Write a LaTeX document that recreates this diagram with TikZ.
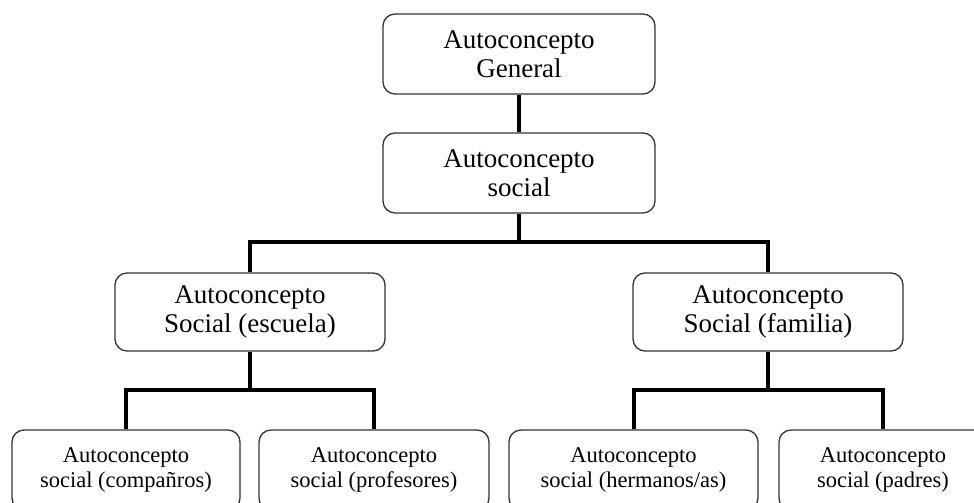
\documentclass[tikz,border=0pt]{standalone}
\usepackage{fontspec}
\setmainfont{Liberation Serif}
\begin{document}
\begin{tikzpicture}[x=1pt,y=-1pt,
  box/.style={draw=black!80, line width=1.3pt, rounded corners=12pt, align=center, inner sep=0pt},
  bigbox/.style={box, font=\fontsize{27}{29}\selectfont},
  smallbox/.style={box, font=\fontsize{22.5}{25}\selectfont, minimum height=80pt},
  conn/.style={draw=black, line width=4pt}]
\useasboundingbox (0,0) rectangle (974,503);
\clip (0,0) rectangle (974,503);
\node[bigbox, minimum width=272pt, minimum height=80pt] (top) at (519,54) {Autoconcepto\\General};
\node[bigbox, minimum width=272pt, minimum height=80pt] (soc) at (519,173) {Autoconcepto\\social};
\node[bigbox, minimum width=270pt, minimum height=78pt] (esc) at (250,312) {Autoconcepto\\Social (escuela)};
\node[bigbox, minimum width=270pt, minimum height=78pt] (fam) at (768,312) {Autoconcepto\\Social (familia)};
\node[smallbox, minimum width=228pt] (b1) at (126,470) {Autoconcepto\\social (compañros)};
\node[smallbox, minimum width=230pt] (b2) at (374,470) {Autoconcepto\\social (profesores)};
\node[smallbox, minimum width=249pt] (b3) at (633.5,470) {Autoconcepto\\social (hermanos/as)};
\node[smallbox, minimum width=208pt] (b4) at (883,470) {Autoconcepto\\social (padres)};
\coordinate (j1) at (519,242);
\coordinate (j2) at (250,390);
\coordinate (j3) at (768,390);
\draw[conn] (top.south) -- (soc.north);
\draw[conn] (soc.south) -- (j1);
\draw[conn] (esc.north) |- (j1) -| (fam.north);
\draw[conn] (esc.south) -- (j2);
\draw[conn] (b1.north) |- (j2) -| (b2.north);
\draw[conn] (fam.south) -- (j3);
\draw[conn] (b3.north) |- (j3) -| (b4.north);
\end{tikzpicture}
\end{document}
